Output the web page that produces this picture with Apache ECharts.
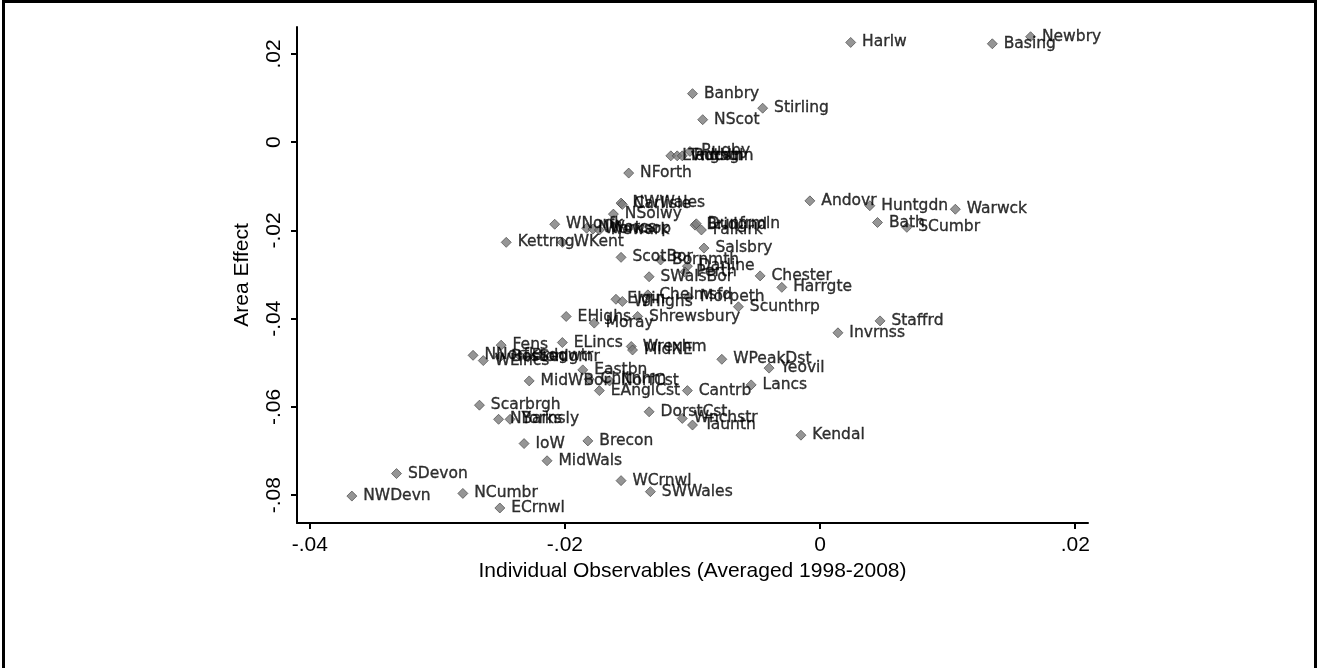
<!DOCTYPE html>
<html>
<head>
<meta charset="utf-8">
<title>Area Effect vs Individual Observables</title>
<script src="https://cdn.jsdelivr.net/npm/echarts@6/dist/echarts.min.js"></script>
<style>
  html, body { margin: 0; padding: 0; background: #ffffff; }
  #frame {
    position: absolute; left: 2px; top: 0px; width: 1315px; height: 700px;
    border: 3px solid #000; box-sizing: border-box;
  }
  #chart { position: absolute; left: 0; top: 0; width: 1317px; height: 668px; }
</style>
</head>
<body>
<div id="chart"></div>
<div id="frame"></div>
<script>
// Travel-to-work areas: area effect against averaged individual observables
const areaNames = [
  'Harlw', 'Basing', 'Newbry', 'Banbry', 'Stirling', 'NScot',
  'Lvngstn', 'Tadcstr', 'Ruthgln', 'Rugby', 'NForth',
  'NWWales', 'Carlisle', 'NSolwy', 'WNorfk', 'NWorcs', 'Worksop', 'Newark',
  'Bridgnd', 'Dunfrmln', 'Falkirk', 'Kettrng', 'WKent', 'Salsbry',
  'ScotBor', 'Bornmth', 'Darline', 'Perth', 'SWalsBor', 'Chester', 'Harrgte',
  'Scunthrp', 'Chelmsfd', 'Morpeth', 'Elgin', 'WHighs', 'EHighs', 'Moray',
  'Shrewsbury', 'Invrnss', 'Staffrd', 'Fens', 'ELincs', 'Wrexhm', 'MidNE',
  'WPeakDst', 'Yeovil', 'Lancs', 'Cantrb', 'EAnglCst', 'Eastbn', 'MidWBor',
  'Chltnhm', 'NorfCst', 'NNorfk', 'WLincs', 'Boston', 'Brdgwtr', 'Sedgmr',
  'Scarbrgh', 'NYorks', 'Barnsly', 'IoW', 'Brecon', 'MidWals', 'DorstCst',
  'Wnchstr', 'Tauntn', 'Kendal', 'WCrnwl', 'SWWales', 'NCumbr', 'ECrnwl',
  'SDevon', 'NWDevn', 'Andovr', 'Huntgdn', 'Warwck', 'Bath', 'SCumbr'
];

const individualObs = [
  0.0024, 0.0135, 0.0165, -0.0100, -0.0045, -0.0092,
  -0.0117, -0.0112, -0.0108, -0.0102, -0.0150,
  -0.0156, -0.0155, -0.0162, -0.0208, -0.0183, -0.0178, -0.0173,
  -0.0098, -0.0097, -0.0093, -0.0246, -0.0202, -0.0091,
  -0.0156, -0.0125, -0.0104, -0.0106, -0.0134, -0.0047, -0.0030,
  -0.0064, -0.0135, -0.0103, -0.0160, -0.0155, -0.0199, -0.0177,
  -0.0143, 0.0014, 0.0047, -0.0250, -0.0202, -0.0148, -0.0147,
  -0.0077, -0.0040, -0.0054, -0.0104, -0.0173, -0.0186, -0.0228,
  -0.0181, -0.0165, -0.0272, -0.0264, -0.0251, -0.0235, -0.0229,
  -0.0267, -0.0252, -0.0243, -0.0232, -0.0182, -0.0214, -0.0134,
  -0.0108, -0.0100, -0.0015, -0.0156, -0.0133, -0.0280, -0.0251,
  -0.0332, -0.0367, -0.0008, 0.0039, 0.0106, 0.0045, 0.0068
];

const areaEffect = [
  0.0226, 0.0223, 0.0239, 0.0110, 0.0077, 0.0051,
  -0.0031, -0.0031, -0.0031, -0.0021, -0.0070,
  -0.0138, -0.0141, -0.0163, -0.0186, -0.0195, -0.0197, -0.0199,
  -0.0188, -0.0185, -0.0199, -0.0227, -0.0227, -0.0240,
  -0.0261, -0.0267, -0.0281, -0.0294, -0.0305, -0.0303, -0.0329,
  -0.0373, -0.0346, -0.0351, -0.0356, -0.0361, -0.0395, -0.0410,
  -0.0395, -0.0432, -0.0405, -0.0460, -0.0454, -0.0463, -0.0471,
  -0.0492, -0.0512, -0.0550, -0.0563, -0.0563, -0.0516, -0.0541,
  -0.0537, -0.0541, -0.0483, -0.0495, -0.0487, -0.0485, -0.0487,
  -0.0596, -0.0628, -0.0628, -0.0683, -0.0677, -0.0722, -0.0611,
  -0.0626, -0.0641, -0.0664, -0.0767, -0.0792, -0.0796, -0.0829,
  -0.0751, -0.0802, -0.0133, -0.0144, -0.0152, -0.0182, -0.0193
];

const xTicks = [-0.04, -0.02, 0, 0.02];
const yTicks = [-0.08, -0.06, -0.04, -0.02, 0, 0.02];

// Stata-style tick text: drop the leading zero
function tickText(v) {
  if (Math.abs(v) < 1e-12) return '0';
  return (v < 0 ? '-' : '') + Math.abs(v).toFixed(2).replace(/^0/, '');
}

const points = areaNames.map((n, i) => ({ name: n, value: [individualObs[i], areaEffect[i]] }));

const FONT = '"Liberation Sans", Arial, sans-serif';
const LABEL_FONT = '"DejaVu Sans", Verdana, sans-serif';

const chart = echarts.init(document.getElementById('chart'), null, { renderer: 'canvas' });
chart.setOption({
  backgroundColor: '#ffffff',
  animation: false,
  grid: { left: 297, right: 229, top: 27, bottom: 145, containLabel: false },
  xAxis: {
    type: 'value',
    min: -0.0410, max: 0.0210,
    name: 'Individual Observables (Averaged 1998-2008)',
    nameLocation: 'middle', nameGap: 36,
    nameTextStyle: { color: '#000', fontFamily: FONT, fontSize: 21 },
    axisLine: { show: true, onZero: false, lineStyle: { color: '#000', width: 2 } },
    axisTick: { show: true, length: 6, customValues: xTicks, lineStyle: { color: '#000', width: 2 } },
    axisLabel: { customValues: xTicks, formatter: tickText, margin: 12, color: '#000', fontFamily: FONT, fontSize: 21 },
    splitLine: { show: false }
  },
  yAxis: {
    type: 'value',
    min: -0.0863, max: 0.0261,
    name: 'Area Effect',
    nameLocation: 'middle', nameGap: 44, nameRotate: 90,
    nameTextStyle: { color: '#000', fontFamily: FONT, fontSize: 21 },
    axisLine: { show: true, onZero: false, lineStyle: { color: '#000', width: 2 } },
    axisTick: { show: true, length: 6, customValues: yTicks, lineStyle: { color: '#000', width: 2 } },
    axisLabel: { customValues: yTicks, formatter: tickText, rotate: 90, margin: 12, color: '#000', fontFamily: FONT, fontSize: 21 },
    splitLine: { show: false }
  },
  series: [{
    type: 'scatter',
    data: points,
    symbol: 'diamond',
    symbolSize: 10,
    itemStyle: { color: '#7a7a7a', borderColor: '#3c3c3c', borderWidth: 0.8 },
    label: {
      show: true,
      position: 'right',
      distance: 6,
      formatter: p => p.name,
      color: '#000',
      textBorderColor: '#000',
      textBorderWidth: 0.35,
      fontFamily: LABEL_FONT,
      fontSize: 15.5
    },
    emphasis: { disabled: true }
  }]
});
</script>
</body>
</html>
